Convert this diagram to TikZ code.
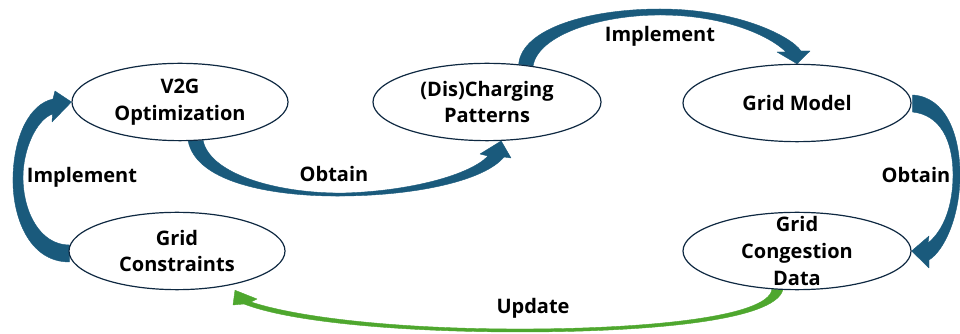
\documentclass[tikz,border=0pt]{standalone}
\usepackage{fontspec}
\setmainfont{Open Sans}
\usetikzlibrary{shapes.geometric, positioning, calc, backgrounds}
\definecolor{arrowblue}{HTML}{1A5A7C}
\definecolor{darknavy}{HTML}{0E2841}
\definecolor{updgreen}{HTML}{4EA72E}

\begin{document}
\begin{tikzpicture}[
  x=0.75pt, y=-0.75pt,
  stage/.style={ellipse, draw=darknavy, line width=0.9pt, fill=white, minimum width=171pt, minimum height=58pt, inner sep=0pt, font=\fontsize{15}{20}\selectfont\bfseries, align=center},
  stagetext/.style={font=\fontsize{15}{20}\selectfont\bfseries, align=center},
  steplabel/.style={font=\fontsize{15}{20}\selectfont\bfseries},
  bluearrow/.style={fill=arrowblue, draw=arrowblue, line width=0.3pt, line join=round},
  greenarrow/.style={fill=updgreen, draw=updgreen, line width=0.3pt, line join=round},
]
\useasboundingbox (0,0) rectangle (960,334);

% stages of the loop
\node[stage, minimum width=162pt] (v2g) at (180,102) {V2G\\Optimization};
\node[stage, minimum width=162pt] (gc) at (177,251) {Grid\\Constraints};
\node[stage] (dcp) at (487,102) {(Dis)Charging\\Patterns};
\node[stage] (gm) at (797,103) {Grid Model};
\node[stage] (gcd) at (797,251) {};
\node[stagetext] (gcdtext) at (gcd) {Grid\\Congestion\\Data};

% arrow labels
\node[steplabel] (impl1) at (82,177) {Implement};
\node[steplabel] (obt1) at (334,174) {Obtain};
\node[steplabel] (impl2) at (660,36) {Implement};
\node[steplabel] (obt2) at (916,175) {Obtain};
\node[steplabel] (upd) at (533,308) {Update};

% curved arrows behind the stages
\begin{scope}[on background layer]
\filldraw[bluearrow] ($(gc.west)+(1,11)$) .. controls (28,262) and (12,215) .. (13,177)
  .. controls (14,135) and (30,104) .. (53,99) -- (55,91) -- (v2g.west) -- (52,122) -- (52.5,114)
  .. controls (36,120) and (23,150) .. (23,177) .. controls (23,212) and (40,245) .. ($(gc.west)+(1,-6)$) -- cycle;
\filldraw[bluearrow] ($(v2g.south)+(8,-1)$) .. controls (196,185) and (280,197) .. (345,196)
  .. controls (420,195) and (485,180) .. (504,157) -- (511,158) -- (dcp.-70) -- (480,154) -- (488,156)
  .. controls (470,175) and (410,191) .. (345,193) .. controls (280,194) and (210,175) .. ($(v2g.south)+(23,-1)$) -- cycle;
\filldraw[bluearrow] (dcp.50) .. controls (522,28) and (590,9) .. (660,9)
  .. controls (735,9) and (790,35) .. (801,51) -- (810,51) -- (gm.north) -- (777,52) -- (786,52)
  .. controls (770,36) and (725,15) .. (660,15) .. controls (600,15) and (538,35) .. (dcp.38) -- cycle;
\filldraw[bluearrow] ($(gm.east)+(1,-8)$) .. controls (946,97) and (960,135) .. (960,175)
  .. controls (960,215) and (945,250) .. (929,260) -- (929,268) -- (gcd.east) -- (929,236) -- (928,243)
  .. controls (944,230) and (953,205) .. (953,175) .. controls (953,140) and (940,115) .. ($(gm.east)+(1,9)$) -- cycle;
\filldraw[greenarrow] ($(gcd.south)+(-14,-1)$) .. controls (776,322) and (640,332) .. (520,332)
  .. controls (400,332) and (290,322) .. (244,304) -- (233,305) -- ($(gc.south)+(58,0)$) -- (257,299) -- (251,302)
  .. controls (300,318) and (400,329) .. (520,329) .. controls (640,329) and (768,318) .. ($(gcd.south)+(-25,-1)$) -- cycle;
\end{scope}
\end{tikzpicture}
\end{document}
